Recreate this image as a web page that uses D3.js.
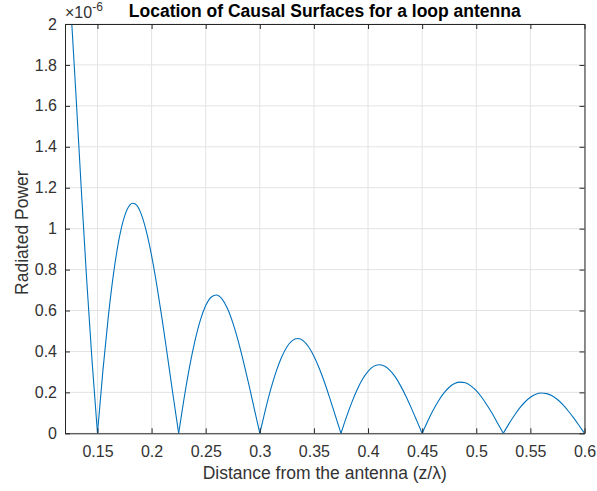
<!DOCTYPE html>
<html>
<head>
<meta charset="utf-8">
<script src="https://cdn.jsdelivr.net/npm/d3@7"></script>
<style>
  html, body { margin: 0; padding: 0; background: #ffffff; }
  svg { display: block; font-family: "Liberation Sans", Arial, Helvetica, sans-serif; }
</style>
</head>
<body>
<svg id="chart" width="597" height="491"></svg>
<script>
// Distance from the loop antenna, in wavelengths (z/λ)
const distance = [
  0.120, 0.125, 0.130, 0.135, 0.140, 0.145, 0.150,
  0.155, 0.160, 0.165, 0.170, 0.175, 0.180, 0.1825, 0.185, 0.190, 0.195, 0.200, 0.205, 0.210, 0.215, 0.220, 0.225,
  0.230, 0.235, 0.240, 0.245, 0.250, 0.255, 0.260, 0.265, 0.270, 0.275, 0.280, 0.285, 0.290, 0.295, 0.300,
  0.305, 0.310, 0.315, 0.320, 0.325, 0.330, 0.335, 0.340, 0.345, 0.350, 0.355, 0.360, 0.365, 0.370, 0.375,
  0.380, 0.385, 0.390, 0.395, 0.400, 0.405, 0.410, 0.415, 0.420, 0.425, 0.430, 0.435, 0.440, 0.445, 0.450,
  0.455, 0.460, 0.465, 0.470, 0.475, 0.480, 0.485, 0.490, 0.495, 0.500, 0.505, 0.510, 0.515, 0.520, 0.525,
  0.530, 0.535, 0.540, 0.545, 0.550, 0.555, 0.560, 0.565, 0.570, 0.575, 0.580, 0.585, 0.590, 0.595, 0.600
];

// Radiated power, in units of 10^-6
const radiatedPower = [
  2.563, 2.116, 1.665, 1.197, 0.753, 0.354, 0,
  0.305, 0.569, 0.786, 0.951, 1.060, 1.116, 1.124, 1.120, 1.077, 0.990, 0.868, 0.718, 0.548, 0.365, 0.180, 0,
  0.170, 0.322, 0.450, 0.552, 0.624, 0.665, 0.676, 0.657, 0.611, 0.541, 0.452, 0.348, 0.235, 0.117, 0,
  0.111, 0.213, 0.300, 0.370, 0.422, 0.453, 0.463, 0.453, 0.423, 0.377, 0.317, 0.246, 0.166, 0.083, 0,
  0.079, 0.151, 0.214, 0.265, 0.303, 0.327, 0.335, 0.329, 0.309, 0.277, 0.233, 0.181, 0.123, 0.062, 0,
  0.058, 0.111, 0.158, 0.196, 0.225, 0.243, 0.250, 0.247, 0.232, 0.208, 0.176, 0.137, 0.094, 0.047, 0,
  0.045, 0.086, 0.123, 0.153, 0.176, 0.191, 0.197, 0.194, 0.183, 0.165, 0.140, 0.109, 0.075, 0.038, 0
];

const xTicks = [0.15, 0.2, 0.25, 0.3, 0.35, 0.4, 0.45, 0.5, 0.55, 0.6];
const yTicks = [0, 0.2, 0.4, 0.6, 0.8, 1, 1.2, 1.4, 1.6, 1.8, 2];
const xDomain = [0.12, 0.6];
const yDomain = [0, 2];

const titleText = "Location of Causal Surfaces for a loop antenna";
const xLabelText = "Distance from the antenna (z/\u03bb)";
const yLabelText = "Radiated Power";

const axisColor = "#262626";
const tickTextColor = "#333333";
const gridColor = "#e3e3e3";
const lineColor = "#0072bd";

const box = { left: 65, right: 584.5, top: 24, bottom: 433.3 };

const svg = d3.select("#chart");

const x = d3.scaleLinear().domain(xDomain).range([box.left, box.right]);
const y = d3.scaleLinear().domain(yDomain).range([box.bottom, box.top]);

// grid
const grid = svg.append("g");
grid.selectAll("line.gx").data(xTicks).join("line")
  .attr("x1", d => x(d)).attr("x2", d => x(d))
  .attr("y1", box.top).attr("y2", box.bottom)
  .attr("stroke", gridColor).attr("stroke-width", 1);
grid.selectAll("line.gy").data(yTicks).join("line")
  .attr("x1", box.left).attr("x2", box.right)
  .attr("y1", d => y(d)).attr("y2", d => y(d))
  .attr("stroke", gridColor).attr("stroke-width", 1);

// data curve, clipped to the axes box
svg.append("clipPath").attr("id", "plotClip")
  .append("rect")
  .attr("x", box.left).attr("y", box.top)
  .attr("width", box.right - box.left).attr("height", box.bottom - box.top);

// Split the samples into arches at the zero crossings, so each arch is
// smoothed on its own and the cusps at zero stay sharp.
const points = distance.map((d, i) => [d, radiatedPower[i]]);
const arches = [];
let current = [];
points.forEach(p => {
  current.push(p);
  if (p[1] === 0 && current.length > 1) {
    arches.push(current);
    current = [p];
  }
});
if (current.length > 1) arches.push(current);

const line = d3.line().x(d => x(d[0])).y(d => y(d[1])).curve(d3.curveMonotoneX);
svg.append("g").attr("clip-path", "url(#plotClip)")
  .selectAll("path").data(arches).join("path")
  .attr("fill", "none")
  .attr("stroke", lineColor)
  .attr("stroke-width", 1.1)
  .attr("stroke-linejoin", "round")
  .attr("d", line);

// axes (ticks pointing inward on all four sides)
const tickLen = 5;
const fmt = d3.format("~g");

const bottomAxis = d3.axisBottom(x).tickValues(xTicks).tickSizeInner(-tickLen).tickSizeOuter(0)
  .tickPadding(12).tickFormat(fmt);
const topAxis = d3.axisTop(x).tickValues(xTicks).tickSizeInner(-tickLen).tickSizeOuter(0).tickFormat("");
const leftAxis = d3.axisLeft(y).tickValues(yTicks).tickSizeInner(-tickLen).tickSizeOuter(0)
  .tickPadding(8).tickFormat(fmt);
const rightAxis = d3.axisRight(y).tickValues(yTicks).tickSizeInner(-tickLen).tickSizeOuter(0).tickFormat("");

function styleAxis(g) {
  g.attr("font-size", null).attr("font-family", null);
  g.select(".domain").attr("stroke", axisColor).attr("stroke-width", 1);
  g.selectAll(".tick line").attr("stroke", axisColor).attr("stroke-width", 1);
  g.selectAll(".tick text")
    .attr("fill", tickTextColor)
    .style("font-size", "16px");
}

svg.append("g").attr("transform", `translate(0,${box.bottom})`).call(bottomAxis).call(styleAxis);
svg.append("g").attr("transform", `translate(0,${box.top})`).call(topAxis).call(styleAxis);
svg.append("g").attr("transform", `translate(${box.left},0)`).call(leftAxis).call(styleAxis);
svg.append("g").attr("transform", `translate(${box.right},0)`).call(rightAxis).call(styleAxis);

// exponent marker above the y axis
const expo = svg.append("text")
  .attr("x", box.left).attr("y", 18)
  .attr("fill", tickTextColor)
  .style("font-size", "16px");
expo.append("tspan").text("\u00d710");
expo.append("tspan").attr("dy", -7).style("font-size", "12px").text("-6");

// title
svg.append("text")
  .attr("x", (box.left + box.right) / 2).attr("y", 17)
  .attr("text-anchor", "middle")
  .attr("fill", "#000000")
  .style("font-size", "17.5px").style("font-weight", "bold")
  .text(titleText);

// axis labels
svg.append("text")
  .attr("x", (box.left + box.right) / 2).attr("y", 479)
  .attr("text-anchor", "middle")
  .attr("fill", tickTextColor)
  .style("font-size", "17.5px")
  .text(xLabelText);

svg.append("text")
  .attr("transform", `translate(28,${(box.top + box.bottom) / 2 + 4}) rotate(-90)`)
  .attr("text-anchor", "middle")
  .attr("fill", tickTextColor)
  .style("font-size", "17.5px")
  .text(yLabelText);
</script>
</body>
</html>
